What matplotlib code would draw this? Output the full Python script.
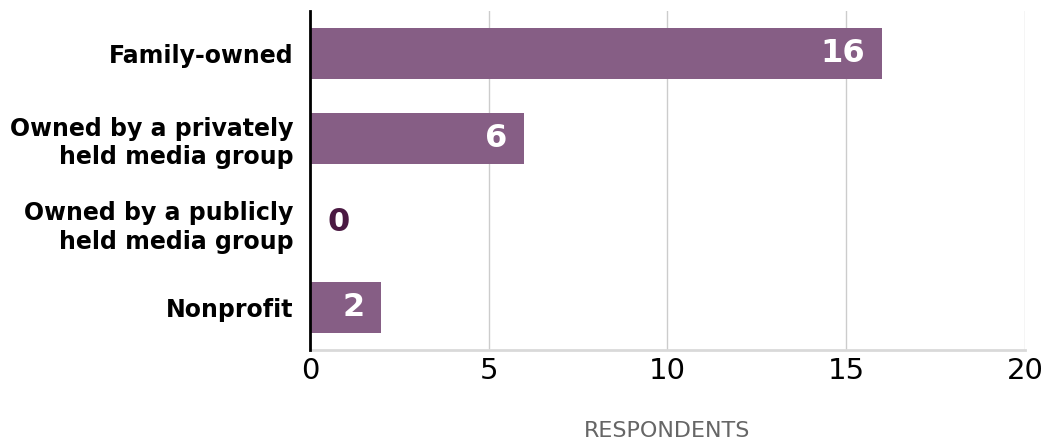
import matplotlib.pyplot as plt
from matplotlib import transforms

# data
categories = ['Family-owned', 'Owned by a privately\nheld media group',
              'Owned by a publicly\nheld media group', 'Nonprofit']
respondents = [16, 6, 0, 2]
x_ticks = [0, 5, 10, 15, 20]

bar_color = '#865e85'
plt.rcParams['font.family'] = ['DejaVu Sans']

fig = plt.figure(figsize=(10.5, 4.42), dpi=100)
ax = fig.add_axes([0.2952, 0.208, 0.681, 0.767])

ypos = list(range(len(categories)))
ax.barh(ypos, respondents, height=0.6, color=bar_color, zorder=3)
ax.set_ylim(len(categories) - 0.5, -0.5)
ax.set_xlim(0, 20)

ax.set_yticks(ypos)
ax.set_yticklabels(categories, fontsize=17, fontweight='bold',
                   linespacing=1.25)
ax.set_xticks(x_ticks)
ax.set_xticklabels([str(t) for t in x_ticks], fontsize=21)
ax.tick_params(axis='both', length=0)
ax.tick_params(axis='y', pad=12)
ax.tick_params(axis='x', pad=5)

ax.grid(axis='x', color='#cccccc', linewidth=1, zorder=0)
for s in ['top', 'right']:
    ax.spines[s].set_visible(False)
ax.spines['left'].set_color('black')
ax.spines['left'].set_linewidth(2)
ax.spines['left'].set_zorder(4)
ax.spines['bottom'].set_color('#d9d9d9')
ax.spines['bottom'].set_linewidth(2)

ax.set_xlabel('RESPONDENTS', fontsize=16, color='#666666', labelpad=26)

# value labels
for y, v in zip(ypos, respondents):
    if v > 0:
        off = transforms.offset_copy(ax.transData, fig=fig, x=-17, y=0,
                                     units='dots')
        ax.text(v, y, str(v), transform=off, ha='right', va='center',
                color='white', fontsize=23, fontweight='bold', zorder=5)
    else:
        off = transforms.offset_copy(ax.transData, fig=fig, x=18, y=0,
                                     units='dots')
        ax.text(v, y, str(v), transform=off, ha='left', va='center',
                color='#4a1942', fontsize=23, fontweight='bold', zorder=5)

fig.savefig('out.png', dpi=100)
